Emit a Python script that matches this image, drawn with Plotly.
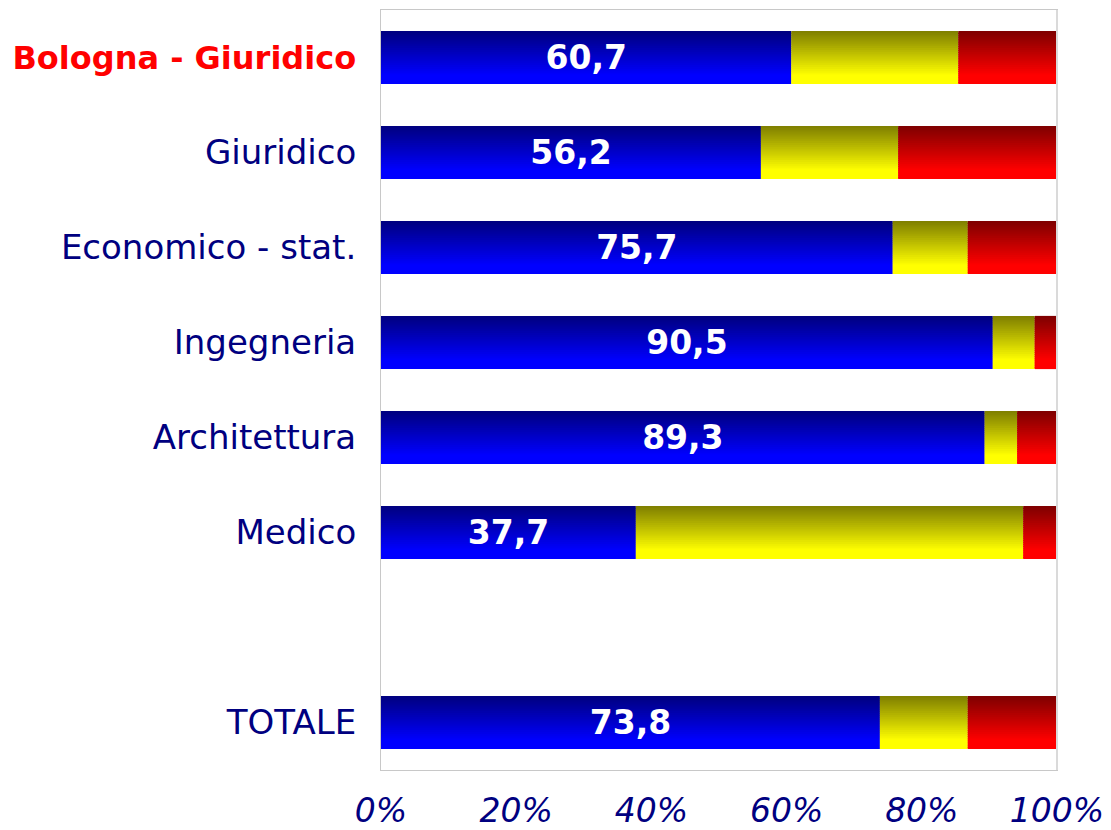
import plotly.graph_objects as go

categories = ["Bologna - Giuridico", "Giuridico", "Economico - stat.", "Ingegneria",
              "Architettura", "Medico", "", "TOTALE"]
blue_vals = [60.7, 56.2, 75.7, 90.5, 89.3, 37.7, None, 73.8]
yellow_vals = [24.7, 20.3, 11.1, 6.2, 4.8, 57.3, None, 13.0]
red_vals = [14.6, 23.5, 13.2, 3.3, 5.9, 5.0, None, 13.2]
x_ticks = [0, 20, 40, 60, 80, 100]
x_tick_labels = ["0%", "20%", "40%", "60%", "80%", "100%"]

ypos = list(range(len(categories)))
ticktext = []
for c in categories:
    if c == "Bologna - Giuridico":
        ticktext.append("<b><span style='color:#ff0000;font-size:32px'>" + c + "</span></b>")
    else:
        ticktext.append(c)

def val(v):
    return 0 if v is None else v

blue = [val(v) for v in blue_vals]
yellow = [val(v) for v in yellow_vals]
red = [val(v) for v in red_vals]
base_blue = [0] * len(blue)
base_yellow = blue[:]
base_red = [b + y for b, y in zip(blue, yellow)]

segments = [
    (blue, base_blue, (0, 0, 128), (0, 0, 255)),
    (yellow, base_yellow, (128, 128, 0), (255, 255, 0)),
    (red, base_red, (128, 0, 0), (255, 0, 0)),
]

BAR_W = 0.56
N = 28
w = BAR_W / N

fig = go.Figure()
for vals, bases, c0, c1 in segments:
    for i in range(N):
        t = min(1.0, (i / (N - 1)) / 0.85)
        col = "rgb(%d,%d,%d)" % tuple(round(a + (b - a) * t) for a, b in zip(c0, c1))
        width = w * 1.6 if i < N - 1 else w
        fig.add_trace(go.Bar(
            y=ypos, x=vals, base=bases, orientation="h",
            width=width, offset=-BAR_W / 2 + i * w,
            marker=dict(color=col, line=dict(width=0)),
            hoverinfo="skip", showlegend=False,
        ))

labels = ["" if v is None else ("%.1f" % v).replace(".", ",") for v in blue_vals]
fig.add_trace(go.Bar(
    y=ypos, x=blue, base=base_blue, orientation="h",
    width=BAR_W, offset=-BAR_W / 2,
    marker=dict(color="rgba(0,0,0,0)", line=dict(width=0)),
    text=labels, textposition="inside", insidetextanchor="middle",
    textangle=0, constraintext="none",
    textfont=dict(family="DejaVu Sans", size=33, color="white", weight="bold"),
    hoverinfo="skip", showlegend=False,
))

fig.update_layout(
    width=1111, height=830,
    margin=dict(l=381, r=54, t=10, b=60, autoexpand=False),
    barmode="overlay",
    plot_bgcolor="white", paper_bgcolor="white",
    font=dict(family="DejaVu Sans", color="#000080"),
    showlegend=False,
    shapes=[dict(type="line", xref="x domain", yref="y domain", x0=1, x1=1, y0=0, y1=1,
                 line=dict(color="#dadada", width=2), layer="above")],
)
fig.update_xaxes(
    range=[0, 100], tickvals=x_ticks, ticktext=x_tick_labels,
    tickfont=dict(size=33, color="#000080", style="italic"),
    showgrid=False, zeroline=False, automargin=False,
    showline=True, mirror=True, linecolor="#c8c8c8", linewidth=1,
    ticks="outside", ticklen=11, tickcolor="rgba(0,0,0,0)",
)
fig.update_yaxes(
    range=[len(categories) - 0.5, -0.5], tickvals=ypos, ticktext=ticktext,
    tickfont=dict(size=34, color="#000080"),
    showgrid=False, zeroline=False, automargin=False,
    showline=True, mirror=True, linecolor="#c8c8c8", linewidth=1,
    ticks="outside", ticklen=17, tickcolor="rgba(0,0,0,0)",
)

fig.write_html("out.html", config={"displayModeBar": False},
               post_script="document.body.style.margin='0';document.body.style.padding='0';")
